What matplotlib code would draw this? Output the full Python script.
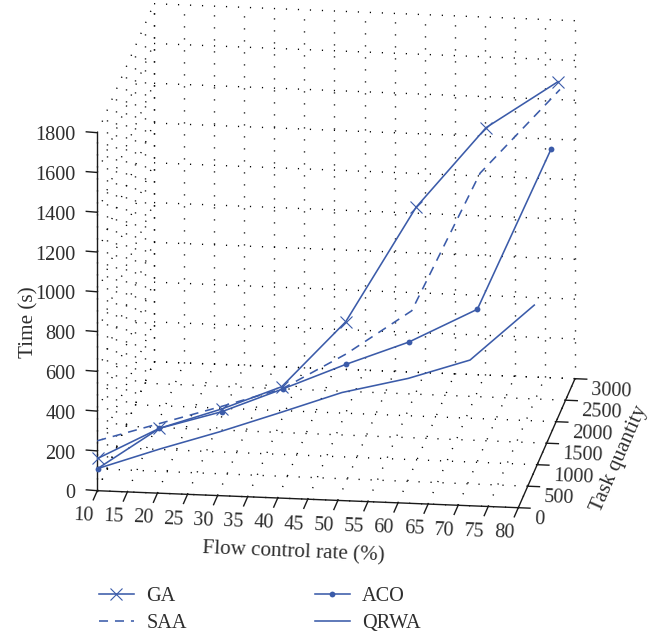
import numpy as np
import matplotlib
matplotlib.use("Agg")
import matplotlib.pyplot as plt
from mpl_toolkits.mplot3d import Axes3D  # noqa: F401

plt.rcParams['font.family'] = ['Liberation Serif', 'DejaVu Serif']
plt.rcParams['lines.scale_dashes'] = False

# ---- data ----
flow_rate = [10, 20, 30, 40, 50, 60, 70, 80]

ga_tasks = [20, 100, 230, 210, 410, 950, 1480, 2100]
ga_time = [158, 304, 386, 514, 809, 1280, 1579, 1688]

saa_tasks = [0, 85, 230, 230, 430, 725, 1160, 2205]
saa_time = [251, 331, 399, 499, 643, 809, 1419, 1626]

aco_tasks = [20, 100, 215, 265, 410, 565, 1015, 1730]
aco_time = [107, 304, 375, 491, 595, 686, 766, 1428]

qrwa_tasks = [20, 140, 125, 120, 215, 545, 630, 845]
qrwa_time = [107, 192, 294, 403, 496, 508, 594, 836]

x_ticks = list(range(10, 85, 5))
y_ticks = list(range(0, 3500, 500))
z_ticks = list(range(0, 2000, 200))

# ---- style ----
W, H = 651, 636
BLUE = '#3b5ba9'
INK = '#2e2e2e'
FS = 14.6
FS_TITLE = 15.2
LW = 1.15

fig = plt.figure(figsize=(W / 100, H / 100), dpi=100, facecolor='white')
ax = fig.add_axes([0, 0, 1, 1], projection='3d', proj_type='ortho')
ax.set_axis_off()
ax.set_xlim(10, 80)
ax.set_ylim(0, 3000)
ax.set_zlim(0, 1800)


def oblique_projection():
    """Parallel projection of (flow, tasks, time) onto the figure, gnuplot style."""
    ex = np.array([421.0 / 70, 56.7 / 3000, 0.0])        # pixels, rightwards
    ey = np.array([-17.0 / 70, 129.0 / 3000, 358.0 / 1800])  # pixels, upwards
    depth = np.cross(ex, ey)
    depth = depth / np.linalg.norm(depth)
    origin_x = 97.3 - ex[0] * 10
    origin_y = (H - 490.7) - ey[0] * 10
    P = np.array([[ex[0], ex[1], ex[2], origin_x],
                  [ey[0], ey[1], ey[2], origin_y],
                  [depth[0], depth[1], depth[2], 0.0],
                  [0, 0, 0, 1.0]])
    inv = ax.transData.inverted().get_matrix()
    A = np.eye(4)
    A[0, 0], A[0, 1], A[0, 3] = inv[0, 0], inv[0, 1], inv[0, 2]
    A[1, 0], A[1, 1], A[1, 3] = inv[1, 0], inv[1, 1], inv[1, 2]
    return A @ P


ax.get_proj = oblique_projection

# ---- dotted grid ----
grid_kw = dict(color='black', lw=1.0, ls=(0, (0.85, 7.79)), zorder=1,
               solid_capstyle='butt', dash_capstyle='butt', clip_on=False)
ymax, zmax, xmin, xmax = y_ticks[-1], z_ticks[-1], x_ticks[0], x_ticks[-1]
for x in x_ticks:
    ax.plot([x, x], [ymax, ymax], [0, zmax], **grid_kw)      # back wall
    ax.plot([x, x], [0, ymax], [0, 0], **grid_kw)            # floor
for z in z_ticks:
    ax.plot([xmin, xmax], [ymax, ymax], [z, z], **grid_kw)   # back wall
    ax.plot([xmin, xmin], [0, ymax], [z, z], **grid_kw)      # left wall
for y in y_ticks:
    ax.plot([xmin, xmin], [y, y], [0, zmax], **grid_kw)      # left wall
    ax.plot([xmin, xmax], [y, y], [0, 0], **grid_kw)         # floor

# ---- axes and ticks ----
axis_kw = dict(color='#1a1a1a', lw=1.0, zorder=2, solid_capstyle='projecting', clip_on=False)
ax.plot([xmin, xmax], [0, 0], [0, 0], **axis_kw)
ax.plot([xmax, xmax], [0, ymax], [0, 0], **axis_kw)
ax.plot([xmin, xmin], [0, 0], [0, zmax], **axis_kw)
for x in x_ticks:
    ax.plot([x, x], [0, -212], [0, 0], **axis_kw)
    ax.text(x - 1.6, -240, -77, str(x), zdir=(1, 0, 0), fontsize=FS, color=INK,
            ha='center', va='center', rotation_mode='anchor')
for y in y_ticks:
    ax.plot([xmax, xmax + 1.95], [y, y], [0, 0], **axis_kw)
    ax.text(xmax + 2.66, y, -55, str(y), zdir=(1, 0, 0), fontsize=FS, color=INK,
            ha='left', va='center', rotation_mode='anchor')
for z in z_ticks:
    ax.plot([xmin, xmin - 1.83], [0, 0], [z, z + 2.2], **axis_kw)
    ax.text(xmin - 3.6, 0, z - 20, str(z), zdir=None, fontsize=FS, color=INK,
            ha='right', va='center', rotation_mode='anchor')

ax.text(42.6, 0, -273, 'Flow control rate (%)', zdir=(1, 0, 0), fontsize=FS_TITLE, color=INK,
        ha='center', va='center', rotation_mode='anchor')
ax.text(92.1, 1500, -62, 'Task quantity', zdir=(0, 1, 0), fontsize=FS_TITLE, color=INK,
        ha='center', va='center', rotation_mode='anchor')
ax.text(-1.36, 0, 834, 'Time (s)', zdir=(0, 0, 1), fontsize=FS_TITLE, color=INK,
        ha='center', va='center', rotation_mode='anchor')

# ---- series ----
line_kw = dict(color=BLUE, lw=LW, zorder=3, clip_on=False)
h_ga, = ax.plot(flow_rate, ga_tasks, ga_time, marker='x', ms=8, mew=0.8, label='GA', **line_kw)
h_saa, = ax.plot(flow_rate, saa_tasks, saa_time, ls=(0, (6.5, 5.0)), label='SAA', **line_kw)
h_aco, = ax.plot(flow_rate, aco_tasks, aco_time, marker='o', ms=4.2, mew=0, label='ACO', **line_kw)
h_qrwa, = ax.plot(flow_rate, qrwa_tasks, qrwa_time, label='QRWA', **line_kw)

fig.legend(handles=[h_ga, h_saa, h_aco, h_qrwa], ncol=2, frameon=False, fontsize=FS,
           labelcolor=INK, loc='upper left', bbox_to_anchor=(99 / W, 1 - 587 / H),
           borderpad=0, borderaxespad=0, handlelength=1.72, handletextpad=0.62,
           columnspacing=6.3, labelspacing=0.38)

fig.savefig('out.png', dpi=100, facecolor='white')
